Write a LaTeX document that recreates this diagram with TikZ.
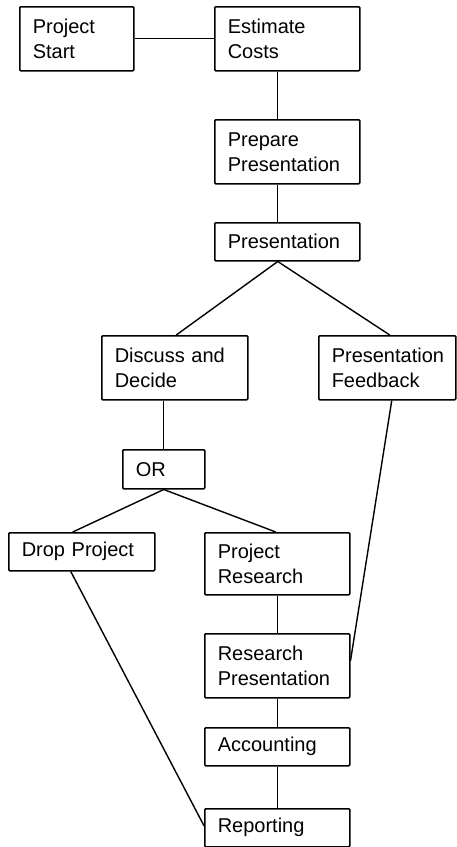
\documentclass[tikz,border=0pt]{standalone}
\usepackage{fontspec}
\setmainfont{Liberation Sans}
\begin{document}
\begin{tikzpicture}[x=1pt,y=-1pt,
  box/.style={draw, line width=1.5pt, rounded corners=1pt, anchor=north west,
    align=left, inner xsep=13pt, inner ysep=0pt,
    font=\fontsize{20pt}{25pt}\selectfont},
  link/.style={line width=1.4pt}]
\useasboundingbox[fill=white] (0,0) rectangle (456,847);
\newcommand\bx[6]{\node[box, text width=#4-26pt, minimum height=#5] (#1) at (#2,#3) {#6};}
\bx{ps}{19}{6}{114pt}{64pt}{Project\\Start}
\bx{ec}{214}{6}{145pt}{64pt}{Estimate\\Costs}
\bx{pp}{214}{119}{145pt}{64pt}{Prepare\\Presentation}
\bx{pr}{214}{222}{145pt}{38pt}{Presentation}
\bx{dd}{101}{335}{146pt}{64pt}{Discuss and\\Decide}
\bx{pf}{318}{335}{137pt}{64pt}{Presentation\\Feedback}
\bx{or}{122}{449}{82pt}{39pt}{OR}
\bx{dp}{8}{532}{146pt}{38pt}{Drop Project}
\bx{prs}{204}{532}{145pt}{62pt}{Project\\Research}
\bx{rp}{204}{633}{145pt}{64pt}{Research\\Presentation}
\bx{ac}{204}{727}{145pt}{38pt}{Accounting}
\bx{rep}{204}{808}{145pt}{38pt}{Reporting}
\draw[link] (ps.east) -- (ec.west);
\draw[link] ([xshift=-9.5pt]ec.south) -- ([xshift=-9.5pt]pp.north);
\draw[link] ([xshift=-9.5pt]pp.south) -- ([xshift=-9.5pt]pr.north);
\draw[link] ([xshift=1.5pt]dd.north) -- ([xshift=-9.5pt]pr.south) -- ([xshift=2.5pt]pf.north);
\draw[link] ([xshift=-11pt]dd.south) -- (or.north);
\draw[link] ([xshift=-9pt]dp.north) -- (or.south) -- ([xshift=-1.5pt]prs.north);
\draw[link] ([xshift=0.5pt]prs.south) -- ([xshift=0.5pt]rp.north);
\draw[link] ([xshift=0.5pt]rp.south) -- ([xshift=0.5pt]ac.north);
\draw[link] ([xshift=0.5pt]ac.south) -- ([xshift=0.5pt]rep.north);
\draw[link] ([xshift=-11pt]dp.south) -- ([yshift=2pt]rep.west);
\draw[link] ([xshift=4.5pt]pf.south) -- ([yshift=5pt]rp.east);
\end{tikzpicture}
\end{document}
